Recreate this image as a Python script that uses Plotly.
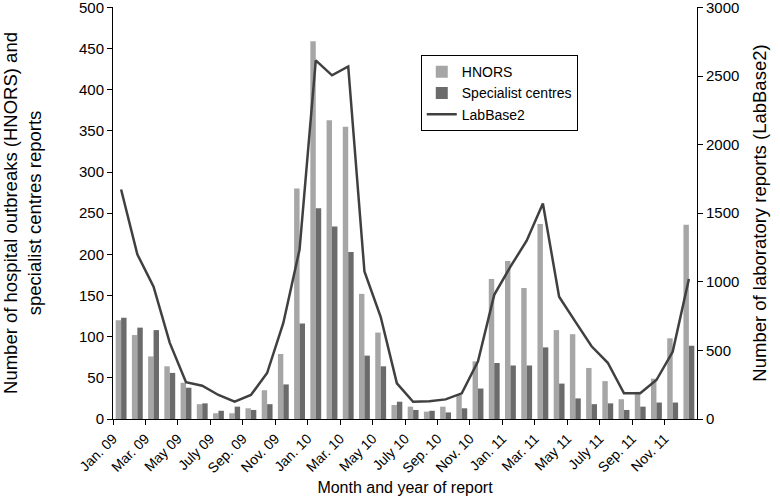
import plotly.graph_objects as go

months = [f"{m} {y}" for y in ["09", "10", "11"] for m in
          ["Jan", "Feb", "Mar", "Apr", "May", "Jun", "Jul", "Aug", "Sep", "Oct", "Nov", "Dec"]]

tick_labels = ["Jan. 09", "Mar. 09", "May 09", "July 09", "Sep. 09", "Nov. 09",
               "Jan. 10", "Mar. 10", "May 10", "July 10", "Sep. 10", "Nov. 10",
               "Jan. 11", "Mar. 11", "May 11", "July 11", "Sep. 11", "Nov. 11"]

hnors = [120, 102, 76, 64, 44, 18, 7, 7, 13, 35, 79, 280,
         459, 363, 355, 152, 105, 17, 15, 9, 15, 30, 70, 170,
         192, 159, 237, 108, 103, 62, 46, 24, 33, 49, 98, 236]

specialist = [123, 111, 108, 56, 38, 19, 10, 15, 11, 18, 42, 116,
              256, 234, 203, 77, 64, 21, 11, 10, 8, 13, 37, 68,
              65, 65, 87, 43, 25, 18, 19, 11, 15, 20, 20, 89]

labbase2 = [1673, 1200, 965, 555, 268, 243, 175, 126, 175, 335, 700, 1235,
            2614, 2505, 2570, 1075, 745, 260, 126, 130, 143, 187, 420, 905,
            1110, 1300, 1571, 891, 710, 530, 410, 187, 187, 284, 490, 1020]

xpos = [i + 0.5 for i in range(len(months))]
tickvals = list(range(0, len(months), 2))

FONT = "Liberation Sans, Arial, sans-serif"

fig = go.Figure()
fig.add_trace(go.Bar(x=xpos, y=hnors, name="HNORS", marker=dict(color="#a6a6a6", line=dict(width=0)),
                     customdata=months))
fig.add_trace(go.Bar(x=xpos, y=specialist, name="Specialist centres",
                     marker=dict(color="#6b6b6b", line=dict(width=0)), customdata=months))
fig.add_trace(go.Scatter(x=xpos, y=labbase2, name="LabBase2", mode="lines",
                         line=dict(color="#404040", width=2.5), yaxis="y2"))

fig.update_layout(
    width=780, height=496,
    margin=dict(l=113, r=83, t=7, b=77, autoexpand=False),
    paper_bgcolor="white", plot_bgcolor="white",
    font=dict(family=FONT, size=14, color="#000000"),
    barmode="group", bargap=0.33, bargroupgap=0.0,
    showlegend=True,
    legend=dict(x=0.527, y=0.883, xanchor="left", yanchor="top",
                bordercolor="#000000", borderwidth=1, bgcolor="white",
                font=dict(family=FONT, size=14), tracegroupgap=0, itemwidth=30),
    xaxis=dict(range=[0, 36], tickmode="array", tickvals=tickvals, ticktext=tick_labels,
               tickangle=-45, ticks="outside", ticklen=5, tickcolor="#000", showgrid=False,
               showline=True, linecolor="#000", linewidth=1, zeroline=False,
               tickfont=dict(size=14), automargin=False,
               title=dict(text="Month and year of report", font=dict(size=16), standoff=8)),
    yaxis=dict(range=[0, 500.5], tickmode="array", tickvals=list(range(0, 501, 50)),
               ticks="outside", ticklen=5, tickcolor="#000", showgrid=False,
               showline=True, linecolor="#000", linewidth=1, zeroline=False,
               tickfont=dict(size=15), automargin=False, ticklabeloverflow="allow",
               title=dict(text="Number of hospital outbreaks (HNORS) and<br>specialist centres reports",
                          font=dict(size=18.5), standoff=36)),
    yaxis2=dict(range=[0, 3003], overlaying="y", side="right", tickmode="array",
                tickvals=list(range(0, 3001, 500)), ticks="outside", ticklen=5, tickcolor="#000",
                showgrid=False, showline=True, linecolor="#000", linewidth=1, zeroline=False,
                tickfont=dict(size=15), automargin=False, ticklabeloverflow="allow",
                title=dict(text="Number of laboratory reports (LabBase2)", font=dict(size=18.5),
                           standoff=14)),
)

fig.write_html("out.html", config={"displayModeBar": False},
               post_script="document.body.style.margin='0px';")
